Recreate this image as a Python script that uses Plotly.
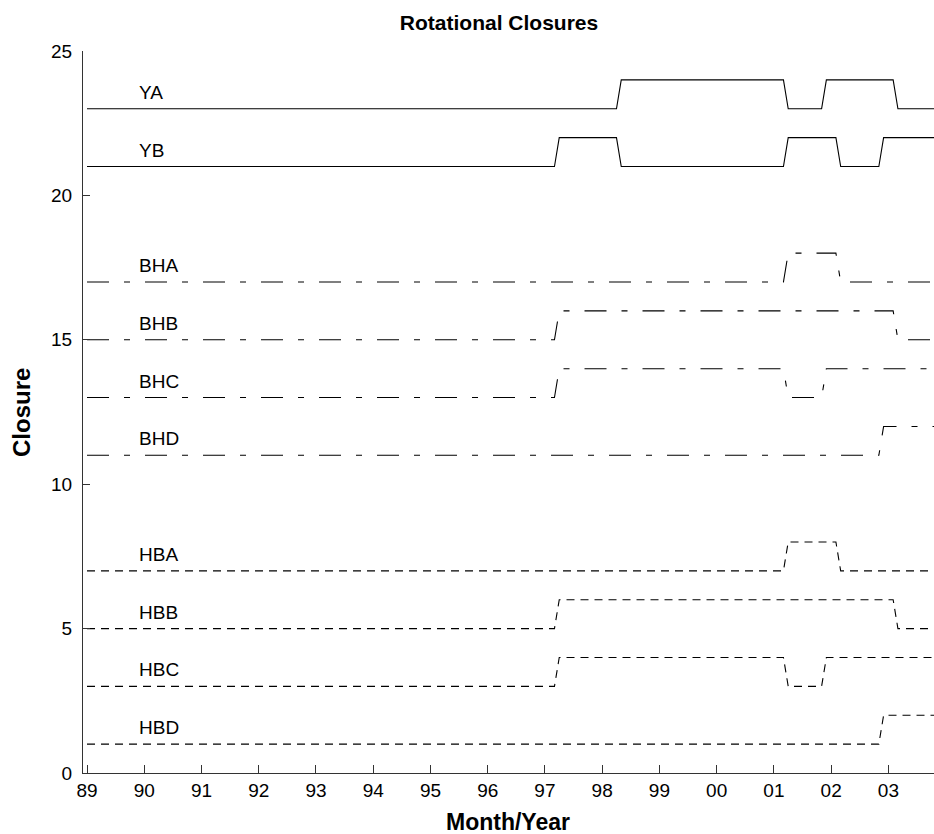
import plotly.graph_objects as go

# ---- data ----
series_names = ["YA", "YB", "BHA", "BHB", "BHC", "BHD", "HBA", "HBB", "HBC", "HBD"]
base_levels = [23, 21, 17, 15, 13, 11, 7, 5, 3, 1]
# periods (inclusive, "YYYY-MM") where the closure level is raised by one
raised_periods = {
    "YA":  [("1998-05", "2001-03"), ("2001-12", "2003-02")],
    "YB":  [("1997-04", "1998-04"), ("2001-04", "2002-02"), ("2002-12", "2003-12")],
    "BHA": [("2001-04", "2002-02")],
    "BHB": [("1997-04", "2003-02")],
    "BHC": [("1997-04", "2001-03"), ("2001-12", "2003-12")],
    "BHD": [("2002-12", "2003-12")],
    "HBA": [("2001-04", "2002-02")],
    "HBB": [("1997-04", "2003-02")],
    "HBC": [("1997-04", "2001-03"), ("2001-12", "2003-12")],
    "HBD": [("2002-12", "2003-12")],
}
line_styles = ["solid", "solid",
               "22px,15px,6px,15px", "22px,15px,6px,15px", "22px,15px,6px,15px", "22px,15px,6px,15px",
               "8px,6px", "8px,6px", "8px,6px", "8px,6px"]
first_month = "1989-01"
last_month = "2003-12"
tick_years = list(range(1989, 2004))
tick_labels = ["89", "90", "91", "92", "93", "94", "95", "96", "97", "98", "99", "00", "01", "02", "03"]
y_ticks = [0, 5, 10, 15, 20, 25]


def month_index(s):
    y, m = s.split("-")
    return int(y) * 12 + int(m) - 1


def to_dec(idx):
    return idx // 12 + (idx % 12) / 12.0


FONT = "Liberation Sans, Arial, Helvetica, sans-serif"
W, H = 934, 834

fig = go.Figure()
months = list(range(month_index(first_month), month_index(last_month) + 1))
for name, base, dash in zip(series_names, base_levels, line_styles):
    per = [(month_index(a), month_index(b)) for a, b in raised_periods[name]]
    ys = [base + (1 if any(a <= mi <= b for a, b in per) else 0) for mi in months]
    xs = [to_dec(mi) for mi in months]
    fig.add_trace(go.Scatter(x=xs, y=ys, mode="lines", name=name,
                             line=dict(color="black", width=1.1, dash=dash),
                             showlegend=False, hoverinfo="skip"))
    fig.add_annotation(x=1989.88, y=base + 0.57, text=name, showarrow=False,
                       xanchor="left", yanchor="middle",
                       font=dict(family=FONT, size=19, color="black"))

fig.update_layout(
    width=W, height=H,
    margin=dict(l=83, r=0, t=51, b=61),
    paper_bgcolor="white", plot_bgcolor="white",
    font=dict(family=FONT, size=19, color="black"),
    title=dict(text="<b>Rotational Closures</b>", x=499 / W, xanchor="center",
               xref="container", yref="container", y=1 - 23 / H, yanchor="middle",
               font=dict(family=FONT, size=21, color="black")),
)
fig.update_xaxes(range=[1988.930, 2003.797], tickvals=tick_years, ticktext=tick_labels,
                 showline=True, linecolor="#333333", linewidth=1, mirror=False,
                 ticks="inside", ticklen=8, tickcolor="#333333", tickwidth=1,
                 showgrid=False, zeroline=False,
                 tickfont=dict(family=FONT, size=19, color="black"))
fig.update_yaxes(range=[0, 25], tickvals=y_ticks,
                 showline=True, linecolor="#333333", linewidth=1, mirror=False,
                 ticks="inside", ticklen=7, tickcolor="#333333", tickwidth=1,
                 showgrid=False, zeroline=False, ticklabelstandoff=6,
                 tickfont=dict(family=FONT, size=19, color="black"))

fig.add_annotation(xref="paper", yref="paper", x=(507.5 - 83) / 851, y=-(822 - 773) / 722,
                   text="<b>Month/Year</b>", showarrow=False, xanchor="center", yanchor="middle",
                   font=dict(family=FONT, size=23, color="black"))
fig.add_annotation(xref="paper", yref="paper", x=(21 - 83) / 851, y=0.5,
                   text="<b>Closure</b>", showarrow=False, textangle=-90,
                   xanchor="center", yanchor="middle",
                   font=dict(family=FONT, size=24, color="black"))

fig.write_html("out.html",
               config={"displayModeBar": False, "staticPlot": True},
               post_script="document.body.style.margin='0';document.body.style.overflow='hidden';")
